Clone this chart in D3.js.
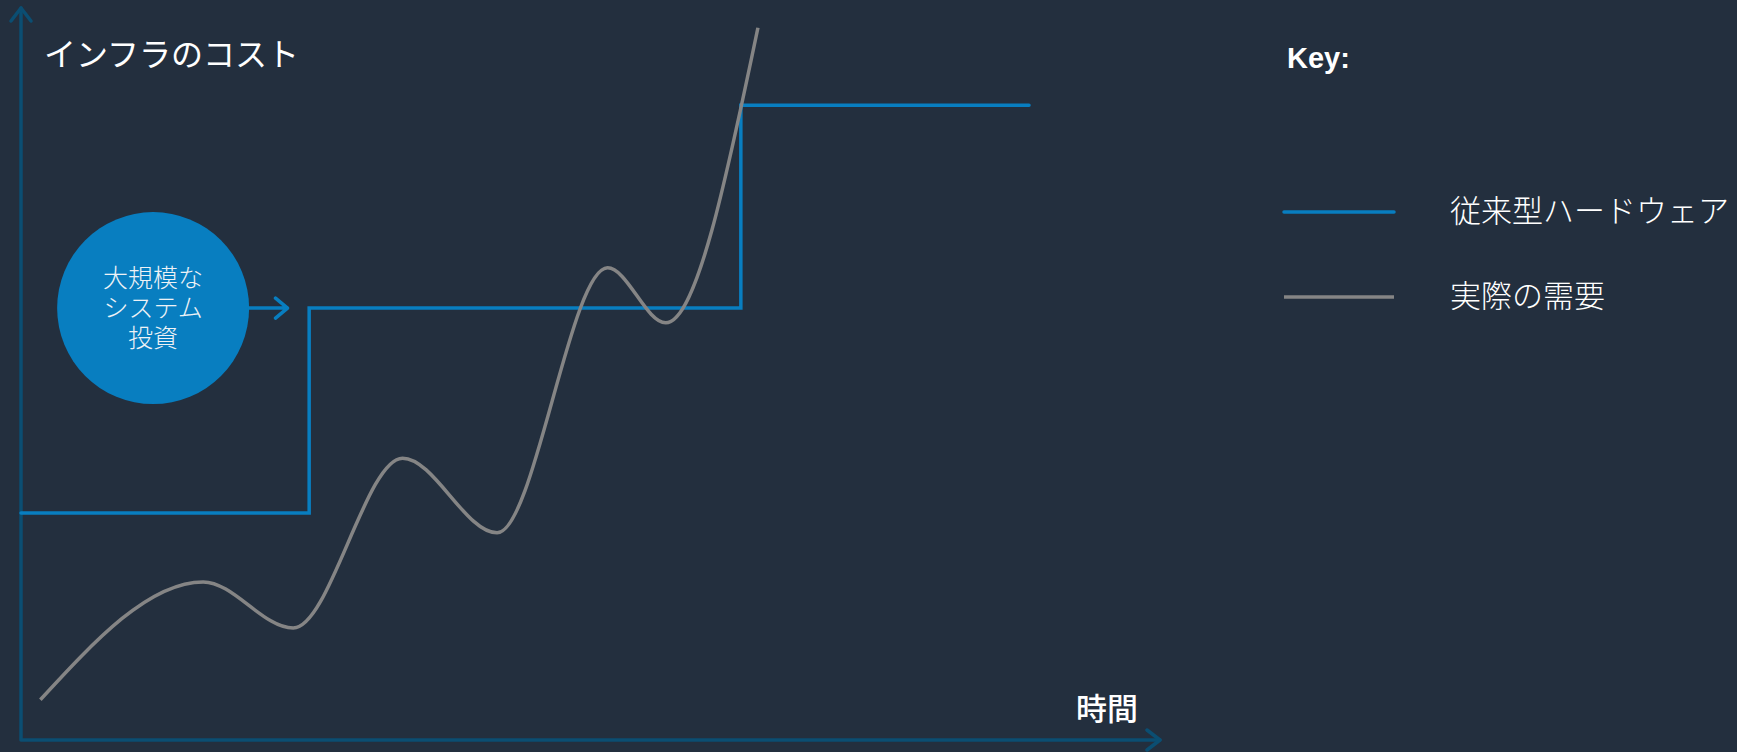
<!doctype html>
<html lang="ja">
<head>
<meta charset="utf-8">
<title>インフラのコスト</title>
<style type="text/css">
html, body { margin:0; padding:0; background-color:#232f3e; overflow:hidden; }
svg { display:block; }
.axis { stroke:#0b4e72; stroke-width:3.5px; fill:none; stroke-linecap:round; stroke-linejoin:round; }
.hw { stroke:#087ec0; stroke-width:3.5px; fill:none; stroke-linecap:round; }
.demand { stroke:#858585; stroke-width:3.5px; fill:none; }
.label { fill:#fff; font-family:"Noto Sans CJK JP", "Noto Sans", sans-serif; }
</style>
<script src="https://cdn.jsdelivr.net/npm/d3@7/dist/d3.min.js"></script>
</head>
<body>
<svg id="chart"></svg>
<script type="text/javascript">
// data: time (0-100) vs infra cost (0-100)
const hwTime = [0, 25.3, 63.2, 88.5];
const hwCost = [31, 59, 86.7, 86.7];

// demand: start, peaks/troughs, end
const demandTime = [1.7, 16.0, 23.9, 33.5, 41.8, 51.5, 56.6, 64.7];
const demandCost = [5.5, 21.6, 15.3, 38.5, 28.3, 64.5, 57.0, 97.3];

const seriesNames = ['従来型ハードウェア', '実際の需要'];
const axisLabels = ['インフラのコスト', '時間'];
const noteLines = ['大規模な', 'システム', '投資'];
const noteAt = {time: 11.6, cost: 59};
const noteArrowEnd = 23.4;

const W = 1737, H = 752;
const svg = d3.select('#chart').attr('width', W).attr('height', H);

const x = d3.scaleLinear().domain([0, 100]).range([21, 1160]);
const y = d3.scaleLinear().domain([0, 100]).range([740, 8]);

// axes with arrow heads
const [x0, x1] = x.domain(), [y0, y1] = y.domain();
svg.append('path').attr('class', 'axis')
	.attr('d', `M${x(x0)},${y(y1)}V${y(y0)}H${x(x1)}`);
svg.append('path').attr('class', 'axis')
	.attr('d', `M${x(x0)-10},${y(y1)+13}L${x(x0)},${y(y1)}L${x(x0)+10},${y(y1)+13}`);
svg.append('path').attr('class', 'axis')
	.attr('d', `M${x(x1)-13},${y(y0)-10}L${x(x1)},${y(y0)}L${x(x1)-13},${y(y0)+10}`);

svg.append('text').attr('class', 'label')
	.attr('x', 44).attr('y', 66)
	.style('font-size', '32px').style('font-weight', 400)
	.text(axisLabels[0]);
svg.append('text').attr('class', 'label')
	.attr('x', 1076).attr('y', 720)
	.style('font-size', '31px').style('font-weight', 500)
	.text(axisLabels[1]);

// traditional hardware: step line
const hwLine = d3.line()
	.x(d => x(d[0])).y(d => y(d[1]))
	.curve(d3.curveStepAfter);
svg.append('path').attr('class', 'hw')
	.attr('d', hwLine(hwTime.map((t, i) => [t, hwCost[i]])));

// actual demand: smooth curve
const demandLine = d3.line()
	.x(d => x(d[0])).y(d => y(d[1]))
	.curve(d3.curveMonotoneX);
svg.append('path').attr('class', 'demand')
	.attr('d', demandLine(demandTime.map((t, i) => [t, demandCost[i]])));

// annotation bubble
const cx = x(noteAt.time), cy = y(noteAt.cost), r = 96;
svg.append('circle').attr('cx', cx).attr('cy', cy).attr('r', r).attr('fill', '#087ec0');
svg.append('path').attr('class', 'hw')
	.attr('d', `M${cx + r},${cy}H${x(noteArrowEnd)}M${x(noteArrowEnd)-12},${cy-10}L${x(noteArrowEnd)},${cy}L${x(noteArrowEnd)-12},${cy+10}`)
	.style('stroke-linejoin', 'round');
svg.append('text').attr('class', 'label')
	.attr('text-anchor', 'middle')
	.style('font-size', '25px').style('font-weight', 300)
	.style('fill', '#eef2f6')
	.selectAll('tspan').data(noteLines).enter().append('tspan')
	.attr('x', cx).attr('y', (d, i) => cy - 30 + i * 30)
	.attr('dy', '0.36em')
	.text(d => d);

// legend
svg.append('text').attr('class', 'label')
	.attr('x', 1287).attr('y', 68)
	.style('font-family', '"Liberation Sans", Arial, sans-serif')
	.style('font-size', '29px').style('font-weight', 'bold')
	.text('Key:');
const legendY = [212, 297];
const legendCls = ['hw', 'demand'];
const lg = svg.selectAll('.legend').data(seriesNames).enter().append('g')
	.attr('class', 'legend')
	.attr('transform', (d, i) => `translate(0,${legendY[i]})`);
lg.append('line')
	.attr('class', (d, i) => legendCls[i])
	.attr('x1', 1284).attr('x2', 1394).attr('y1', 0).attr('y2', 0)
	.style('stroke-linecap', (d, i) => i ? 'butt' : 'round');
lg.append('text').attr('class', 'label')
	.attr('x', 1450).attr('y', -1).attr('dy', '0.36em')
	.style('font-size', '31px').style('font-weight', 300)
	.text(d => d);
</script>
</body>
</html>
